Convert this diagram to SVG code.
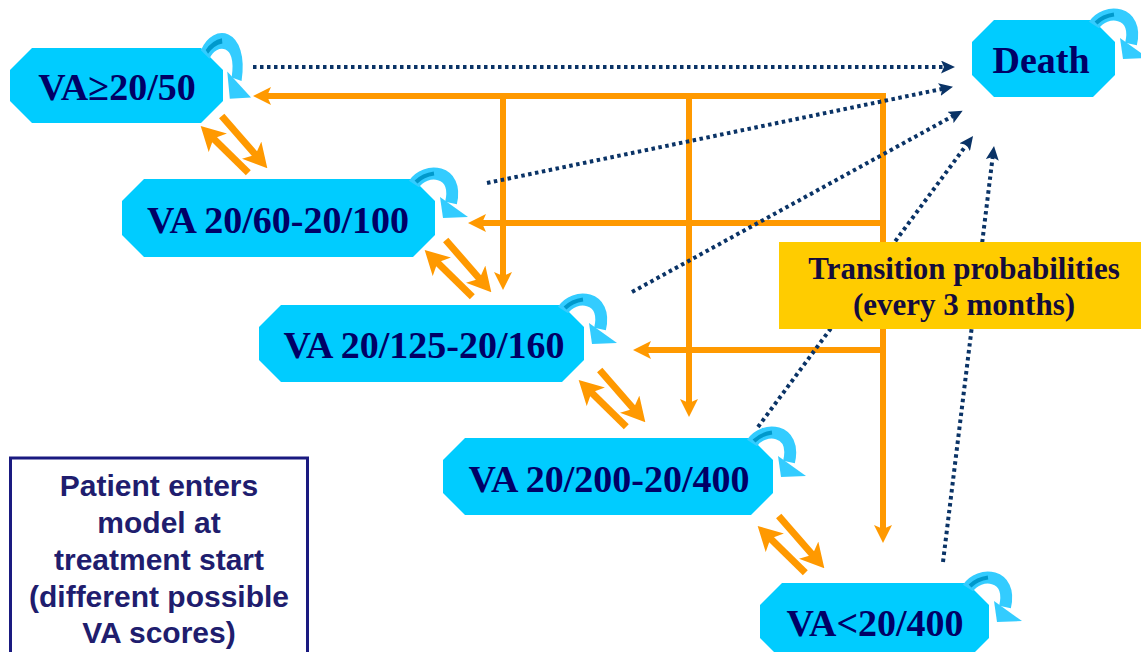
<svg xmlns="http://www.w3.org/2000/svg" xmlns:xlink="http://www.w3.org/1999/xlink" width="1141" height="652" viewBox="0 0 1141 652">
<style>
.node{fill:#00CCFF;}
.nt{font-family:"Liberation Serif","Times New Roman",serif;font-weight:bold;font-size:38px;fill:#000066;text-anchor:middle;}
.tt{font-family:"Liberation Serif","Times New Roman",serif;font-weight:bold;font-size:31px;fill:#140C3C;text-anchor:middle;}
.pt{font-family:"Liberation Sans",Arial,sans-serif;font-weight:bold;font-size:30px;fill:#201D6E;text-anchor:middle;}
.or{stroke:#FF9900;stroke-width:6;fill:none;marker-end:url(#ah);}
.ob{stroke:#FF9900;stroke-width:7;fill:none;marker-end:url(#ahb);}
.dt{stroke:#0A3366;stroke-width:4;stroke-dasharray:3.5 3.5;fill:none;marker-end:url(#dh);}
</style>
<defs>
<marker id="ah" viewBox="0 0 18 18" refX="6" refY="9" markerWidth="18" markerHeight="18" markerUnits="userSpaceOnUse" orient="auto"><path d="M0,0 L18,9 L0,18 L4,9 z" fill="#FF9900"/></marker>
<marker id="ahb" viewBox="0 0 24 26" refX="8" refY="13" markerWidth="24" markerHeight="26" markerUnits="userSpaceOnUse" orient="auto"><path d="M0,0 L24,13 L0,26 L6,13 z" fill="#FF9900"/></marker>
<marker id="dh" viewBox="0 0 14 13" refX="4" refY="6.5" markerWidth="14" markerHeight="13" markerUnits="userSpaceOnUse" orient="auto"><path d="M0,0 L14,6.5 L0,13 L3,6.5 z" fill="#0A3366"/></marker>
<g id="lp">
<path d="M-21,5 C-10,-12 24,-10 16,24" fill="none" stroke="#33CCFF" stroke-width="12"/>
<path d="M-19,3 Q-12,-4 -1,-5.5" fill="none" stroke="#0099CC" stroke-width="4"/>
<polygon points="5,18 33,38 8,39" fill="#33CCFF"/>
</g>
</defs>
<rect width="1141" height="652" fill="#FFFFFF"/>
<g id="connectors">
<g id="orange-tree">
<path class="or" d="M886,96 H265"/>
<path class="or" d="M883,93 V531"/>
<path class="or" d="M883,223 H480"/>
<path class="or" d="M883,350 H645"/>
<path class="or" d="M503,96 V278"/>
<path class="or" d="M689,96 V405"/>
</g>
<g id="orange-pairs">
<path class="ob" d="M248.3,172.7 L212.1,137.2"/>
<path class="ob" d="M221.7,116 L256.8,156.2"/>
<path class="ob" d="M472.3,296.7 L436.1,261.2"/>
<path class="ob" d="M445.7,240 L480.8,280.2"/>
<path class="ob" d="M626.3,426.7 L590.1,391.2"/>
<path class="ob" d="M599.7,370 L634.8,410.2"/>
<path class="ob" d="M805.3,572.7 L769.1,537.2"/>
<path class="ob" d="M778.7,516 L813.8,556.2"/>
</g>
<g id="to-death">
<path class="dt" d="M253,67 H945"/>
<path class="dt" d="M487,183 L943.2,88.7"/>
<path class="dt" d="M632,292 L953.9,115.5"/>
<path class="dt" d="M758,427 L967.1,144"/>
<path class="dt" d="M943,562 L992.8,155.9"/>
</g>
</g>
<g id="n-va50">
<polygon class="node" points="32,48 201,48 223,70 223,101 201,123 32,123 10,101 10,70"/>
<text class="nt" x="117" y="100">VA≥20/50</text>
<use xlink:href="#lp" href="#lp" transform="translate(223,48) scale(0.85,1.3)"/>
</g>
<g id="n-death">
<polygon class="node" points="994,20 1093,20 1115,42 1115,75 1093,97 994,97 972,75 972,42"/>
<text class="nt" x="1041" y="73">Death</text>
<use xlink:href="#lp" href="#lp" transform="translate(1115,20)"/>
</g>
<g id="n-va60">
<polygon class="node" points="144,179 413,179 435,201 435,235 413,257 144,257 122,235 122,201"/>
<text class="nt" x="278" y="233">VA 20/60-20/100</text>
<use xlink:href="#lp" href="#lp" transform="translate(435,179)"/>
</g>
<g id="n-va125">
<polygon class="node" points="281,305 562,305 584,327 584,360 562,382 281,382 259,360 259,327"/>
<text class="nt" x="424" y="358">VA 20/125-20/160</text>
<use xlink:href="#lp" href="#lp" transform="translate(584,305)"/>
</g>
<g id="n-va200">
<polygon class="node" points="465,438 751,438 773,460 773,493 751,515 465,515 443,493 443,460"/>
<text class="nt" x="609" y="492">VA 20/200-20/400</text>
<use xlink:href="#lp" href="#lp" transform="translate(773,438)"/>
</g>
<g id="n-va400">
<polygon class="node" points="782,583 967,583 989,605 989,638 967,660 782,660 760,638 760,605"/>
<text class="nt" x="875" y="636">VA&lt;20/400</text>
<use xlink:href="#lp" href="#lp" transform="translate(989,583)"/>
</g>
<g id="n-transition">
<rect x="779" y="242" width="372" height="87" fill="#FFCC00"/>
<text class="tt" x="964" y="279">Transition probabilities</text>
<text class="tt" x="964" y="315">(every 3 months)</text>
</g>
<g id="n-patient">
<rect x="10.5" y="458" width="297" height="220" fill="#FFFFFF" stroke="#1A1A80" stroke-width="3"/>
<text class="pt" x="159" y="496">Patient enters</text>
<text class="pt" x="159" y="533">model at</text>
<text class="pt" x="159" y="570">treatment start</text>
<text class="pt" x="159" y="607">(different possible</text>
<text class="pt" x="159" y="643">VA scores)</text>
</g>
</svg>
